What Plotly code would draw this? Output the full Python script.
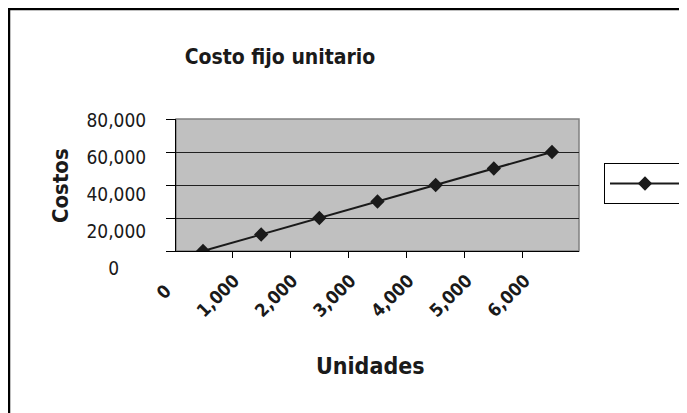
import plotly.graph_objects as go

unidades = ["0", "1,000", "2,000", "3,000", "4,000", "5,000", "6,000"]
costos = [0, 10000, 20000, 30000, 40000, 50000, 60000]
y_ticks = [0, 20000, 40000, 60000, 80000]
y_tick_text = ["0", "20,000", "40,000", "60,000", "80,000"]

# page body adds an 8px margin, so work in screenshot pixels and shift
OFF = 8
W, H = 687 - OFF, 413 - OFF
PLOT_LEFT, PLOT_RIGHT, PLOT_TOP, PLOT_BOTTOM = 176, 579, 119, 251
PAPER_BOTTOM = 270
L = PLOT_LEFT - OFF
R = W - (PLOT_RIGHT - OFF)
T = PLOT_TOP - OFF
B = H - (PAPER_BOTTOM - OFF)
paper_h = H - T - B


def py(pixel_y):
    return (PAPER_BOTTOM - pixel_y) / paper_h


def px(pixel_x):
    return (pixel_x - PLOT_LEFT) / (W - L - R)


FONT = "DejaVu Sans Condensed, Roboto, sans-serif"
INK = "#1a1a1a"
GRAY_BG = "#c0c0c0"

# rotated labels are end-anchored; trailing pad keeps a short label centred
x_tick_text = [t if len(t) > 1 else t + "\u2007\u2009" for t in unidades]

fig = go.Figure()
fig.add_trace(
    go.Scatter(
        x=unidades,
        y=costos,
        mode="lines+markers",
        name="Serie1",
        line=dict(color=INK, width=2),
        marker=dict(symbol="diamond", size=11, color=INK),
    )
)
# invisible helper trace so the label-only axis gets drawn
fig.add_trace(
    go.Scatter(
        x=unidades, y=costos, yaxis="y2", mode="lines",
        line=dict(width=0), showlegend=False, hoverinfo="skip",
    )
)

fig.update_layout(
    width=W,
    height=H,
    margin=dict(l=L, r=R, t=T, b=B, autoexpand=False),
    paper_bgcolor="white",
    plot_bgcolor="rgba(0,0,0,0)",
    font=dict(family=FONT, color=INK),
    title=dict(
        text="<b>Costo fijo unitario</b>",
        font=dict(size=21, family=FONT, color=INK),
        xref="container", x=(280 - OFF) / W, xanchor="center",
        yref="container", y=1 - (57 - OFF) / H, yanchor="middle",
    ),
    xaxis=dict(
        type="category",
        tickson="boundaries",
        tickvals=unidades,
        ticktext=x_tick_text,
        ticks="outside", ticklen=6, tickcolor="black",
        showline=True, linecolor="black", linewidth=1,
        showgrid=False,
        tickangle=-45,
        ticklabelshift=-27,
        ticklabelstandoff=11,
        tickfont=dict(size=18, family=FONT, color=INK, weight="bold"),
        fixedrange=True,
    ),
    yaxis=dict(
        domain=[py(PLOT_BOTTOM), 1],
        range=[0, 80000],
        tickvals=y_ticks,
        showticklabels=False,
        ticks="outside", ticklen=9, tickcolor="black",
        showline=True, linecolor="black", linewidth=1,
        gridcolor="#202020", gridwidth=1,
        zeroline=False,
        fixedrange=True,
    ),
    yaxis2=dict(
        domain=[py(268), py(120)],
        range=[0, 80000],
        anchor="free", position=0, side="left",
        tickvals=y_ticks,
        ticktext=["0\u2007\u2007\u2008"] + y_tick_text[1:],
        ticks="outside", ticklen=26, tickcolor="rgba(0,0,0,0)",
        showline=False, showgrid=False, zeroline=False,
        tickfont=dict(size=19, family=FONT, color=INK),
        fixedrange=True,
    ),
    legend=dict(
        x=px(604), xanchor="left", y=py(163), yanchor="top",
        bordercolor="black", borderwidth=1, bgcolor="white",
        itemwidth=70,
        font=dict(size=20, family=FONT, color=INK),
    ),
    showlegend=True,
)

fig.add_annotation(
    text="<b>Costos</b>", textangle=-90,
    xref="paper", yref="paper", x=px(60), y=py(186),
    xanchor="center", yanchor="middle", showarrow=False,
    font=dict(size=22, family=FONT, color=INK),
)
fig.add_annotation(
    text="<b>Unidades</b>",
    xref="paper", yref="paper", x=px(370), y=py(366),
    xanchor="center", yanchor="middle", showarrow=False,
    font=dict(size=23, family=FONT, color=INK),
)

# gray plot area with gray top/right edges
fig.add_shape(
    type="rect", xref="x domain", yref="y domain", x0=0, x1=1, y0=0, y1=1,
    fillcolor=GRAY_BG, line=dict(color="#808080", width=1.5), layer="below",
)
# outer chart border
fig.add_shape(
    type="rect", xref="paper", yref="paper",
    x0=px(9), x1=px(687 + 20), y0=py(413 + 20), y1=py(9),
    line=dict(color="black", width=2.5),
)

fig.write_html("out.html")
